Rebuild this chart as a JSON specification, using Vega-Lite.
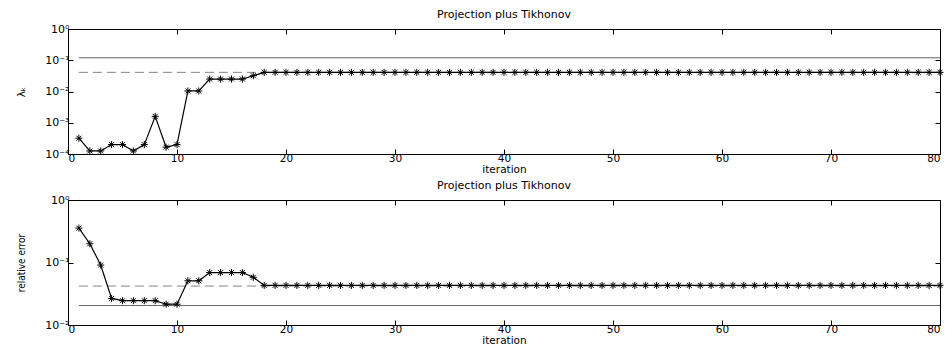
{
  "$schema": "https://vega.github.io/schema/vega-lite/v6.json",
  "background": "white",
  "padding": {"left": 16, "top": 8, "right": 0, "bottom": 0},
  "spacing": 3,
  "config": {
    "view": {"stroke": "black", "strokeWidth": 1},
    "font": "DejaVu Sans",
    "axis": {"grid": false, "domainColor": "black", "tickColor": "black", "labelColor": "black", "titleColor": "black", "labelFont": "DejaVu Sans", "labelFontSize": 10.5, "titleFont": "DejaVu Sans", "titleFontSize": 10.5, "titleFontWeight": "normal", "tickSize": -5, "labelPadding": 4},
    "axisY": {"labelFontSize": 11},
    "title": {"font": "DejaVu Sans", "fontSize": 11, "fontWeight": "normal", "color": "black", "offset": 3}
  },
  "datasets": {
    "lam": [
      {"iteration": 1, "value": 0.00032}, {"iteration": 2, "value": 0.000125}, {"iteration": 3, "value": 0.000125},
      {"iteration": 4, "value": 0.0002}, {"iteration": 5, "value": 0.0002}, {"iteration": 6, "value": 0.000125},
      {"iteration": 7, "value": 0.0002}, {"iteration": 8, "value": 0.0016}, {"iteration": 9, "value": 0.000165},
      {"iteration": 10, "value": 0.0002}, {"iteration": 11, "value": 0.0104}, {"iteration": 12, "value": 0.0104},
      {"iteration": 13, "value": 0.025}, {"iteration": 14, "value": 0.025}, {"iteration": 15, "value": 0.025},
      {"iteration": 16, "value": 0.025}, {"iteration": 17, "value": 0.032}, {"iteration": 18, "value": 0.041},
      {"iteration": 19, "value": 0.041}, {"iteration": 20, "value": 0.041}, {"iteration": 21, "value": 0.041},
      {"iteration": 22, "value": 0.041}, {"iteration": 23, "value": 0.041}, {"iteration": 24, "value": 0.041},
      {"iteration": 25, "value": 0.041}, {"iteration": 26, "value": 0.041}, {"iteration": 27, "value": 0.041},
      {"iteration": 28, "value": 0.041}, {"iteration": 29, "value": 0.041}, {"iteration": 30, "value": 0.041},
      {"iteration": 31, "value": 0.041}, {"iteration": 32, "value": 0.041}, {"iteration": 33, "value": 0.041},
      {"iteration": 34, "value": 0.041}, {"iteration": 35, "value": 0.041}, {"iteration": 36, "value": 0.041},
      {"iteration": 37, "value": 0.041}, {"iteration": 38, "value": 0.041}, {"iteration": 39, "value": 0.041},
      {"iteration": 40, "value": 0.041}, {"iteration": 41, "value": 0.041}, {"iteration": 42, "value": 0.041},
      {"iteration": 43, "value": 0.041}, {"iteration": 44, "value": 0.041}, {"iteration": 45, "value": 0.041},
      {"iteration": 46, "value": 0.041}, {"iteration": 47, "value": 0.041}, {"iteration": 48, "value": 0.041},
      {"iteration": 49, "value": 0.041}, {"iteration": 50, "value": 0.041}, {"iteration": 51, "value": 0.041},
      {"iteration": 52, "value": 0.041}, {"iteration": 53, "value": 0.041}, {"iteration": 54, "value": 0.041},
      {"iteration": 55, "value": 0.041}, {"iteration": 56, "value": 0.041}, {"iteration": 57, "value": 0.041},
      {"iteration": 58, "value": 0.041}, {"iteration": 59, "value": 0.041}, {"iteration": 60, "value": 0.041},
      {"iteration": 61, "value": 0.041}, {"iteration": 62, "value": 0.041}, {"iteration": 63, "value": 0.041},
      {"iteration": 64, "value": 0.041}, {"iteration": 65, "value": 0.041}, {"iteration": 66, "value": 0.041},
      {"iteration": 67, "value": 0.041}, {"iteration": 68, "value": 0.041}, {"iteration": 69, "value": 0.041},
      {"iteration": 70, "value": 0.041}, {"iteration": 71, "value": 0.041}, {"iteration": 72, "value": 0.041},
      {"iteration": 73, "value": 0.041}, {"iteration": 74, "value": 0.041}, {"iteration": 75, "value": 0.041},
      {"iteration": 76, "value": 0.041}, {"iteration": 77, "value": 0.041}, {"iteration": 78, "value": 0.041},
      {"iteration": 79, "value": 0.041}, {"iteration": 80, "value": 0.041}
    ],
    "err": [
      {"iteration": 1, "value": 0.355}, {"iteration": 2, "value": 0.2}, {"iteration": 3, "value": 0.091},
      {"iteration": 4, "value": 0.0266}, {"iteration": 5, "value": 0.0245}, {"iteration": 6, "value": 0.0245},
      {"iteration": 7, "value": 0.0245}, {"iteration": 8, "value": 0.0245}, {"iteration": 9, "value": 0.0215},
      {"iteration": 10, "value": 0.0215}, {"iteration": 11, "value": 0.051}, {"iteration": 12, "value": 0.051},
      {"iteration": 13, "value": 0.069}, {"iteration": 14, "value": 0.069}, {"iteration": 15, "value": 0.069},
      {"iteration": 16, "value": 0.069}, {"iteration": 17, "value": 0.058}, {"iteration": 18, "value": 0.043},
      {"iteration": 19, "value": 0.043}, {"iteration": 20, "value": 0.043}, {"iteration": 21, "value": 0.043},
      {"iteration": 22, "value": 0.043}, {"iteration": 23, "value": 0.043}, {"iteration": 24, "value": 0.043},
      {"iteration": 25, "value": 0.043}, {"iteration": 26, "value": 0.043}, {"iteration": 27, "value": 0.043},
      {"iteration": 28, "value": 0.043}, {"iteration": 29, "value": 0.043}, {"iteration": 30, "value": 0.043},
      {"iteration": 31, "value": 0.043}, {"iteration": 32, "value": 0.043}, {"iteration": 33, "value": 0.043},
      {"iteration": 34, "value": 0.043}, {"iteration": 35, "value": 0.043}, {"iteration": 36, "value": 0.043},
      {"iteration": 37, "value": 0.043}, {"iteration": 38, "value": 0.043}, {"iteration": 39, "value": 0.043},
      {"iteration": 40, "value": 0.043}, {"iteration": 41, "value": 0.043}, {"iteration": 42, "value": 0.043},
      {"iteration": 43, "value": 0.043}, {"iteration": 44, "value": 0.043}, {"iteration": 45, "value": 0.043},
      {"iteration": 46, "value": 0.043}, {"iteration": 47, "value": 0.043}, {"iteration": 48, "value": 0.043},
      {"iteration": 49, "value": 0.043}, {"iteration": 50, "value": 0.043}, {"iteration": 51, "value": 0.043},
      {"iteration": 52, "value": 0.043}, {"iteration": 53, "value": 0.043}, {"iteration": 54, "value": 0.043},
      {"iteration": 55, "value": 0.043}, {"iteration": 56, "value": 0.043}, {"iteration": 57, "value": 0.043},
      {"iteration": 58, "value": 0.043}, {"iteration": 59, "value": 0.043}, {"iteration": 60, "value": 0.043},
      {"iteration": 61, "value": 0.043}, {"iteration": 62, "value": 0.043}, {"iteration": 63, "value": 0.043},
      {"iteration": 64, "value": 0.043}, {"iteration": 65, "value": 0.043}, {"iteration": 66, "value": 0.043},
      {"iteration": 67, "value": 0.043}, {"iteration": 68, "value": 0.043}, {"iteration": 69, "value": 0.043},
      {"iteration": 70, "value": 0.043}, {"iteration": 71, "value": 0.043}, {"iteration": 72, "value": 0.043},
      {"iteration": 73, "value": 0.043}, {"iteration": 74, "value": 0.043}, {"iteration": 75, "value": 0.043},
      {"iteration": 76, "value": 0.043}, {"iteration": 77, "value": 0.043}, {"iteration": 78, "value": 0.043},
      {"iteration": 79, "value": 0.043}, {"iteration": 80, "value": 0.043}
    ],
    "lamRef": [
      {"start": 1, "end": 80, "level": 0.12, "style": "solid"},
      {"start": 1, "end": 80, "level": 0.041, "style": "dashed"}
    ],
    "errRef": [
      {"start": 1, "end": 80, "level": 0.0205, "style": "solid"},
      {"start": 1, "end": 80, "level": 0.042, "style": "dashed"}
    ]
  },
  "vconcat": [
    {
      "width": 872,
      "height": 125,
      "title": "Projection plus Tikhonov",
      "resolve": {"axis": {"x": "independent", "y": "independent"}},
      "layer": [
        {
          "data": {"name": "lamRef"},
          "mark": {"type": "rule", "strokeWidth": 0.8},
          "encoding": {
            "x": {"field": "start", "type": "quantitative", "scale": {"domain": [0, 80]}, "axis": null},
            "x2": {"field": "end"},
            "y": {"field": "level", "type": "quantitative", "scale": {"type": "log", "domain": [0.0001, 1]}, "axis": null},
            "strokeDash": {"field": "style", "type": "nominal", "scale": {"domain": ["solid", "dashed"], "range": [[1, 0], [9, 5]]}, "legend": null},
            "color": {"field": "style", "type": "nominal", "scale": {"domain": ["solid", "dashed"], "range": ["#333333", "#666666"]}, "legend": null}
          }
        },
        {
          "data": {"name": "lam"},
          "mark": {"type": "line", "color": "black", "strokeWidth": 1.2},
          "encoding": {
            "x": {"field": "iteration", "type": "quantitative", "scale": {"domain": [0, 80]}, "axis": {"values": [0, 10, 20, 30, 40, 50, 60, 70, 80], "title": "iteration", "titlePadding": 1}},
            "y": {"field": "value", "type": "quantitative", "scale": {"type": "log", "domain": [0.0001, 1]}, "axis": {"values": [0.0001, 0.001, 0.01, 0.1, 1], "labelExpr": "'10' + ['⁰','⁻¹','⁻²','⁻³','⁻⁴'][-round(log(datum.value)/LN10)]", "title": "λₖ", "titlePadding": 18}}
          }
        },
        {
          "data": {"name": "lam"},
          "mark": {"type": "point", "shape": "M -1 0 L 1 0 M 0 -1 L 0 1 M -0.7 -0.7 L 0.7 0.7 M -0.7 0.7 L 0.7 -0.7", "color": "black", "strokeWidth": 1, "size": 50, "opacity": 1},
          "encoding": {
            "x": {"field": "iteration", "type": "quantitative", "scale": {"domain": [0, 80]}, "axis": {"orient": "top", "values": [0, 10, 20, 30, 40, 50, 60, 70, 80], "labels": false, "title": null, "domain": false}},
            "y": {"field": "value", "type": "quantitative", "scale": {"type": "log", "domain": [0.0001, 1]}, "axis": {"orient": "right", "values": [0.0001, 0.001, 0.01, 0.1, 1], "labels": false, "title": null, "domain": false}}
          }
        }
      ]
    },
    {
      "width": 872,
      "height": 125,
      "title": "Projection plus Tikhonov",
      "resolve": {"axis": {"x": "independent", "y": "independent"}},
      "layer": [
        {
          "data": {"name": "errRef"},
          "mark": {"type": "rule", "strokeWidth": 0.8},
          "encoding": {
            "x": {"field": "start", "type": "quantitative", "scale": {"domain": [0, 80]}, "axis": null},
            "x2": {"field": "end"},
            "y": {"field": "level", "type": "quantitative", "scale": {"type": "log", "domain": [0.01, 1]}, "axis": null},
            "strokeDash": {"field": "style", "type": "nominal", "scale": {"domain": ["solid", "dashed"], "range": [[1, 0], [9, 5]]}, "legend": null},
            "color": {"field": "style", "type": "nominal", "scale": {"domain": ["solid", "dashed"], "range": ["#333333", "#666666"]}, "legend": null}
          }
        },
        {
          "data": {"name": "err"},
          "mark": {"type": "line", "color": "black", "strokeWidth": 1.2},
          "encoding": {
            "x": {"field": "iteration", "type": "quantitative", "scale": {"domain": [0, 80]}, "axis": {"values": [0, 10, 20, 30, 40, 50, 60, 70, 80], "title": "iteration", "titlePadding": 1}},
            "y": {"field": "value", "type": "quantitative", "scale": {"type": "log", "domain": [0.01, 1]}, "axis": {"values": [0.01, 0.1, 1], "labelExpr": "'10' + ['⁰','⁻¹','⁻²'][-round(log(datum.value)/LN10)]", "title": "relative error", "titleFont": "DejaVu Sans Condensed", "titleFontSize": 10, "titlePadding": 18}}
          }
        },
        {
          "data": {"name": "err"},
          "mark": {"type": "point", "shape": "M -1 0 L 1 0 M 0 -1 L 0 1 M -0.7 -0.7 L 0.7 0.7 M -0.7 0.7 L 0.7 -0.7", "color": "black", "strokeWidth": 1, "size": 50, "opacity": 1},
          "encoding": {
            "x": {"field": "iteration", "type": "quantitative", "scale": {"domain": [0, 80]}, "axis": {"orient": "top", "values": [0, 10, 20, 30, 40, 50, 60, 70, 80], "labels": false, "title": null, "domain": false}},
            "y": {"field": "value", "type": "quantitative", "scale": {"type": "log", "domain": [0.01, 1]}, "axis": {"orient": "right", "values": [0.01, 0.1, 1], "labels": false, "title": null, "domain": false}}
          }
        }
      ]
    }
  ]
}
